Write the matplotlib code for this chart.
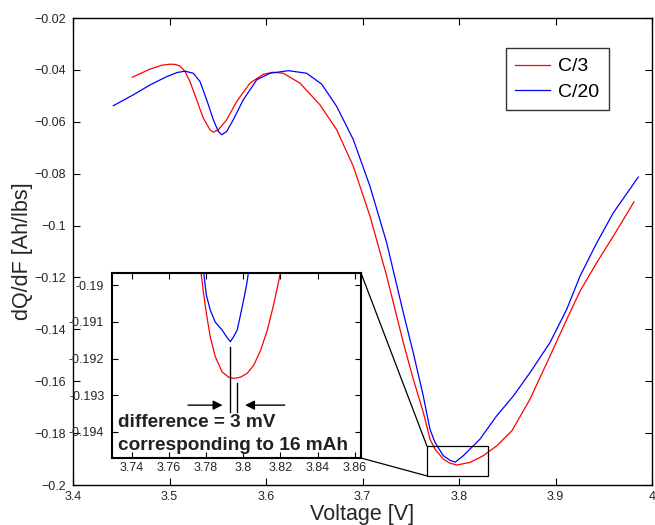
import matplotlib
matplotlib.use("Agg")
import matplotlib.pyplot as plt
from matplotlib.patches import Rectangle, ConnectionPatch

plt.rcParams['font.family'] = ['Liberation Sans', 'DejaVu Sans']

# ---------------- data ----------------
c3_v = [3.4615, 3.4798, 3.4920, 3.5005, 3.5060, 3.5109, 3.5161, 3.5212, 3.5281, 3.5350, 3.5420, 3.5454,
        3.5506, 3.5593, 3.5696, 3.5834, 3.5972, 3.6076, 3.6179, 3.6352, 3.6560, 3.6733,
        3.6905, 3.7078, 3.7251, 3.7423, 3.7526, 3.7630, 3.7699, 3.7751, 3.7837, 3.7900,
        3.7976, 3.8114, 3.8252, 3.8391, 3.8550, 3.8736, 3.8943, 3.9116, 3.9254, 3.9427,
        3.9599, 3.9813]
c3_q = [-0.0428, -0.0397, -0.0382, -0.0378, -0.0379, -0.0385, -0.0406, -0.0445, -0.0515, -0.0586, -0.0631, -0.0640,
        -0.0631, -0.0592, -0.0522, -0.0451, -0.0417, -0.0409, -0.0413, -0.0451, -0.0535, -0.0631,
        -0.0772, -0.0964, -0.1195, -0.1451, -0.1592, -0.1720, -0.1823, -0.1862, -0.1900, -0.1915,
        -0.1923, -0.1913, -0.1887, -0.1849, -0.1790, -0.1669, -0.1503, -0.1362, -0.1253, -0.1143,
        -0.1041, -0.0909]

c20_v = [3.4418, 3.4625, 3.4798, 3.4971, 3.5080, 3.5161, 3.5247, 3.5316, 3.5385, 3.5454, 3.5506,
         3.5541, 3.5593, 3.5661, 3.5765, 3.5904, 3.6041, 3.6231, 3.6422, 3.6577, 3.6733,
         3.6905, 3.7078, 3.7251, 3.7423, 3.7526, 3.7630, 3.7699, 3.7751, 3.7837, 3.7907,
         3.7960, 3.8045, 3.8148, 3.8218, 3.8391, 3.8563, 3.8736, 3.8943, 3.9116, 3.9254,
         3.9427, 3.9599, 3.9858]
c20_q = [-0.0538, -0.0496, -0.0458, -0.0426, -0.0410, -0.0405, -0.0413, -0.0445, -0.0515, -0.0592, -0.0637,
         -0.0650, -0.0637, -0.0592, -0.0515, -0.0438, -0.0413, -0.0403, -0.0413, -0.0455, -0.0541,
         -0.0669, -0.0849, -0.1067, -0.1336, -0.1490, -0.1657, -0.1785, -0.1836, -0.1887, -0.1905,
         -0.1912, -0.1887, -0.1849, -0.1823, -0.1733, -0.1657, -0.1567, -0.1451, -0.1323, -0.1195,
         -0.1067, -0.0951, -0.0813]

# zoomed data (inset)
z20_v = [3.7783, 3.7802, 3.7823, 3.7850, 3.7886, 3.7915, 3.7931, 3.7948, 3.7968, 3.7985,
         3.8002, 3.8018, 3.8034]
z20_q = [-0.18946, -0.19027, -0.19068, -0.19101, -0.19122, -0.19144, -0.19154, -0.19141, -0.19122, -0.19082,
         -0.19041, -0.19000, -0.18946]
z3_v = [3.7765, 3.7787, 3.7805, 3.7823, 3.7850, 3.7886, 3.7922, 3.7949, 3.7985, 3.8022,
        3.8057, 3.8094, 3.8130, 3.8165, 3.8192, 3.8211]
z3_q = [-0.18932, -0.19023, -0.19086, -0.19141, -0.19195, -0.19236, -0.19251, -0.19254, -0.19251, -0.19240,
        -0.19218, -0.19177, -0.19122, -0.19050, -0.18986, -0.18932]

labels = ['C/3', 'C/20']

x_ticks = [3.4, 3.5, 3.6, 3.7, 3.8, 3.9, 4.0]
x_ticklabels = ['3.4', '3.5', '3.6', '3.7', '3.8', '3.9', '4']
y_ticks = [-0.2, -0.18, -0.16, -0.14, -0.12, -0.1, -0.08, -0.06, -0.04, -0.02]
y_ticklabels = ['\u22120.2', '\u22120.18', '\u22120.16', '\u22120.14', '\u22120.12', '\u22120.1',
                '\u22120.08', '\u22120.06', '\u22120.04', '\u22120.02']

zx_ticks = [3.74, 3.76, 3.78, 3.80, 3.82, 3.84, 3.86]
zx_ticklabels = ['3.74', '3.76', '3.78', '3.8', '3.82', '3.84', '3.86']
zy_ticks = [-0.194, -0.193, -0.192, -0.191, -0.19]
zy_ticklabels = ['-0.194', '-0.193', '-0.192', '-0.191', '-0.19']

# ---------------- figure ----------------
fig = plt.figure(figsize=(6.55, 5.25), dpi=100)
ax = fig.add_axes([73/655, 40/525, 579/655, 467/525])

ax.plot(c3_v, c3_q, color='#ff0000', lw=0.9, label=labels[0])
ax.plot(c20_v, c20_q, color='#0000ff', lw=0.9, label=labels[1])

ax.set_xlim(3.4, 4.0)
ax.set_ylim(-0.2, -0.02)
ax.set_xticks(x_ticks)
ax.set_xticklabels(x_ticklabels)
ax.set_yticks(y_ticks)
ax.set_yticklabels(y_ticklabels)
ax.tick_params(direction='in', length=5, width=0.8, top=True, right=True,
               labelsize=9, colors='black', labelcolor='#262626')
ax.tick_params(axis='y', pad=5)
ax.tick_params(axis='x', pad=4)
for s in ax.spines.values():
    s.set_linewidth(1.0)
ax.set_xlabel('Voltage [V]', fontsize=15.5, labelpad=1, color='#262626')
ax.set_ylabel('dQ/dF [Ah/lbs]', fontsize=15.5, color='#262626')
ax.yaxis.set_label_coords(-40/579, 0.5)

leg = ax.legend(loc='upper right', bbox_to_anchor=(0.9257, 0.9358), borderaxespad=0,
                fontsize=14, frameon=True, fancybox=False, handlelength=1.8,
                handletextpad=0.4, labelspacing=0.4, borderpad=0.5)
leg.get_frame().set_edgecolor('black')
leg.get_frame().set_linewidth(1.0)

# zoom rectangle
rx0, rx1, ry0, ry1 = 3.7668, 3.830, -0.1965, -0.185
ax.add_patch(Rectangle((rx0, ry0), rx1 - rx0, ry1 - ry0, fill=False, ec='black', lw=0.9, zorder=5))

# inset
axi = fig.add_axes([112/655, 67/525, 249/655, 185/525])
axi.plot(z3_v, z3_q, color='#ff0000', lw=0.9)
axi.plot(z20_v, z20_q, color='#0000ff', lw=0.9)
axi.set_xlim(3.7295, 3.8633)
axi.set_ylim(-0.19471, -0.18967)
axi.set_xticks(zx_ticks)
axi.set_xticklabels(zx_ticklabels)
axi.set_yticks(zy_ticks)
axi.set_yticklabels(zy_ticklabels)
axi.tick_params(direction='in', length=4, width=0.8, top=True, right=True,
                labelsize=9, colors='black', labelcolor='#262626')
axi.tick_params(axis='y', pad=5.5)
axi.tick_params(axis='x', pad=3)
for s in axi.spines.values():
    s.set_linewidth(1.5)

# markers of minima and arrows
v_blue, v_red = 3.7931, 3.7964
axi.plot([v_blue, v_blue], [-0.19169, -0.19345], color='black', lw=1.0)
axi.plot([v_red, v_red], [-0.19267, -0.19345], color='black', lw=1.0)
ya = -0.19327
axi.annotate('', xy=(3.7904, ya), xytext=(3.7689, ya),
             arrowprops=dict(arrowstyle='-|>', color='black', lw=1.0, mutation_scale=14))
axi.annotate('', xy=(3.7995, ya), xytext=(3.8238, ya),
             arrowprops=dict(arrowstyle='-|>', color='black', lw=1.0, mutation_scale=14))
axi.text(0.024, 0.168, 'difference = 3 mV', transform=axi.transAxes, fontsize=13.7,
         fontweight='bold', color='#222222', va='baseline', ha='left')
axi.text(0.024, 0.043, 'corresponding to 16 mAh', transform=axi.transAxes, fontsize=13.7,
         fontweight='bold', color='#222222', va='baseline', ha='left')

# connector lines
for (xa, ya_), (xb, yb) in [((rx0, ry1), (1, 1)), ((rx0, ry0), (1, 0))]:
    cp = ConnectionPatch(xyA=(xa, ya_), coordsA=ax.transData, xyB=(xb, yb), coordsB=axi.transAxes,
                         color='black', lw=0.9)
    fig.add_artist(cp)

fig.savefig('out.png', dpi=100)
